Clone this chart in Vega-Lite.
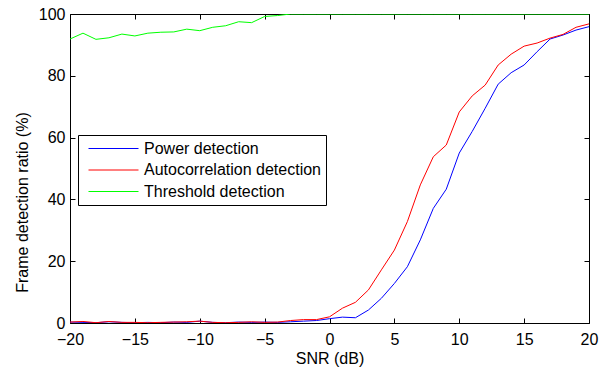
{
  "$schema": "https://vega.github.io/schema/vega-lite/v6.json",
  "width": 519,
  "height": 309,
  "autosize": "none",
  "padding": {"left": 70, "top": 14, "right": 10, "bottom": 46},
  "background": "white",
  "config": {
    "font": "Liberation Sans",
    "view": {"stroke": "black", "strokeWidth": 1},
    "axis": {"grid": false, "domain": false, "labelFlush": false, "ticks": true, "tickColor": "black", "tickWidth": 1, "labelColor": "black", "titleColor": "black", "labelFontSize": 16, "titleFontSize": 16, "titleFontWeight": "normal", "labelFont": "Liberation Sans", "titleFont": "Liberation Sans"}
  },
  "datasets": {
    "d": [
      {"snr": -20, "ratio": 0.3, "method": "Power detection"},
      {"snr": -19, "ratio": 0.2, "method": "Power detection"},
      {"snr": -18, "ratio": 0.1, "method": "Power detection"},
      {"snr": -17, "ratio": 0.4, "method": "Power detection"},
      {"snr": -16, "ratio": 0.2, "method": "Power detection"},
      {"snr": -15, "ratio": 0.1, "method": "Power detection"},
      {"snr": -14, "ratio": 0.2, "method": "Power detection"},
      {"snr": -13, "ratio": 0.1, "method": "Power detection"},
      {"snr": -12, "ratio": 0.3, "method": "Power detection"},
      {"snr": -11, "ratio": 0.2, "method": "Power detection"},
      {"snr": -10, "ratio": 0.6, "method": "Power detection"},
      {"snr": -9, "ratio": 0.2, "method": "Power detection"},
      {"snr": -8, "ratio": 0.1, "method": "Power detection"},
      {"snr": -7, "ratio": 0.3, "method": "Power detection"},
      {"snr": -6, "ratio": 0.2, "method": "Power detection"},
      {"snr": -5, "ratio": 0.3, "method": "Power detection"},
      {"snr": -4, "ratio": 0.2, "method": "Power detection"},
      {"snr": -3, "ratio": 0.4, "method": "Power detection"},
      {"snr": -2, "ratio": 0.6, "method": "Power detection"},
      {"snr": -1, "ratio": 0.8, "method": "Power detection"},
      {"snr": 0, "ratio": 1.4, "method": "Power detection"},
      {"snr": 1, "ratio": 1.9, "method": "Power detection"},
      {"snr": 2, "ratio": 1.7, "method": "Power detection"},
      {"snr": 3, "ratio": 4.2, "method": "Power detection"},
      {"snr": 4, "ratio": 8.0, "method": "Power detection"},
      {"snr": 5, "ratio": 12.8, "method": "Power detection"},
      {"snr": 6, "ratio": 18.2, "method": "Power detection"},
      {"snr": 7, "ratio": 26.9, "method": "Power detection"},
      {"snr": 8, "ratio": 37.1, "method": "Power detection"},
      {"snr": 9, "ratio": 43.3, "method": "Power detection"},
      {"snr": 10, "ratio": 55.0, "method": "Power detection"},
      {"snr": 11, "ratio": 62.0, "method": "Power detection"},
      {"snr": 12, "ratio": 69.5, "method": "Power detection"},
      {"snr": 13, "ratio": 77.3, "method": "Power detection"},
      {"snr": 14, "ratio": 81.0, "method": "Power detection"},
      {"snr": 15, "ratio": 83.5, "method": "Power detection"},
      {"snr": 16, "ratio": 87.8, "method": "Power detection"},
      {"snr": 17, "ratio": 91.9, "method": "Power detection"},
      {"snr": 18, "ratio": 93.2, "method": "Power detection"},
      {"snr": 19, "ratio": 94.8, "method": "Power detection"},
      {"snr": 20, "ratio": 95.9, "method": "Power detection"},
      {"snr": -20, "ratio": 0.3, "method": "Autocorrelation detection"},
      {"snr": -19, "ratio": 0.5, "method": "Autocorrelation detection"},
      {"snr": -18, "ratio": 0.1, "method": "Autocorrelation detection"},
      {"snr": -17, "ratio": 0.5, "method": "Autocorrelation detection"},
      {"snr": -16, "ratio": 0.2, "method": "Autocorrelation detection"},
      {"snr": -15, "ratio": 0.2, "method": "Autocorrelation detection"},
      {"snr": -14, "ratio": 0.1, "method": "Autocorrelation detection"},
      {"snr": -13, "ratio": 0.2, "method": "Autocorrelation detection"},
      {"snr": -12, "ratio": 0.3, "method": "Autocorrelation detection"},
      {"snr": -11, "ratio": 0.4, "method": "Autocorrelation detection"},
      {"snr": -10, "ratio": 0.6, "method": "Autocorrelation detection"},
      {"snr": -9, "ratio": 0.2, "method": "Autocorrelation detection"},
      {"snr": -8, "ratio": 0.1, "method": "Autocorrelation detection"},
      {"snr": -7, "ratio": 0.2, "method": "Autocorrelation detection"},
      {"snr": -6, "ratio": 0.4, "method": "Autocorrelation detection"},
      {"snr": -5, "ratio": 0.2, "method": "Autocorrelation detection"},
      {"snr": -4, "ratio": 0.3, "method": "Autocorrelation detection"},
      {"snr": -3, "ratio": 0.8, "method": "Autocorrelation detection"},
      {"snr": -2, "ratio": 1.1, "method": "Autocorrelation detection"},
      {"snr": -1, "ratio": 1.1, "method": "Autocorrelation detection"},
      {"snr": 0, "ratio": 2.0, "method": "Autocorrelation detection"},
      {"snr": 1, "ratio": 4.8, "method": "Autocorrelation detection"},
      {"snr": 2, "ratio": 6.7, "method": "Autocorrelation detection"},
      {"snr": 3, "ratio": 10.7, "method": "Autocorrelation detection"},
      {"snr": 4, "ratio": 17.2, "method": "Autocorrelation detection"},
      {"snr": 5, "ratio": 23.6, "method": "Autocorrelation detection"},
      {"snr": 6, "ratio": 32.8, "method": "Autocorrelation detection"},
      {"snr": 7, "ratio": 44.7, "method": "Autocorrelation detection"},
      {"snr": 8, "ratio": 53.8, "method": "Autocorrelation detection"},
      {"snr": 9, "ratio": 57.6, "method": "Autocorrelation detection"},
      {"snr": 10, "ratio": 68.3, "method": "Autocorrelation detection"},
      {"snr": 11, "ratio": 73.5, "method": "Autocorrelation detection"},
      {"snr": 12, "ratio": 77.0, "method": "Autocorrelation detection"},
      {"snr": 13, "ratio": 83.5, "method": "Autocorrelation detection"},
      {"snr": 14, "ratio": 87.0, "method": "Autocorrelation detection"},
      {"snr": 15, "ratio": 89.6, "method": "Autocorrelation detection"},
      {"snr": 16, "ratio": 90.6, "method": "Autocorrelation detection"},
      {"snr": 17, "ratio": 92.2, "method": "Autocorrelation detection"},
      {"snr": 18, "ratio": 93.4, "method": "Autocorrelation detection"},
      {"snr": 19, "ratio": 95.7, "method": "Autocorrelation detection"},
      {"snr": 20, "ratio": 96.8, "method": "Autocorrelation detection"},
      {"snr": -20, "ratio": 91.9, "method": "Threshold detection"},
      {"snr": -19, "ratio": 93.8, "method": "Threshold detection"},
      {"snr": -18, "ratio": 91.8, "method": "Threshold detection"},
      {"snr": -17, "ratio": 92.3, "method": "Threshold detection"},
      {"snr": -16, "ratio": 93.5, "method": "Threshold detection"},
      {"snr": -15, "ratio": 92.9, "method": "Threshold detection"},
      {"snr": -14, "ratio": 93.8, "method": "Threshold detection"},
      {"snr": -13, "ratio": 94.1, "method": "Threshold detection"},
      {"snr": -12, "ratio": 94.2, "method": "Threshold detection"},
      {"snr": -11, "ratio": 95.1, "method": "Threshold detection"},
      {"snr": -10, "ratio": 94.6, "method": "Threshold detection"},
      {"snr": -9, "ratio": 95.7, "method": "Threshold detection"},
      {"snr": -8, "ratio": 96.2, "method": "Threshold detection"},
      {"snr": -7, "ratio": 97.5, "method": "Threshold detection"},
      {"snr": -6, "ratio": 97.2, "method": "Threshold detection"},
      {"snr": -5, "ratio": 99.2, "method": "Threshold detection"},
      {"snr": -4, "ratio": 99.5, "method": "Threshold detection"},
      {"snr": -3, "ratio": 100, "method": "Threshold detection"},
      {"snr": -2, "ratio": 100, "method": "Threshold detection"},
      {"snr": -1, "ratio": 100, "method": "Threshold detection"},
      {"snr": 0, "ratio": 100, "method": "Threshold detection"},
      {"snr": 1, "ratio": 100, "method": "Threshold detection"},
      {"snr": 2, "ratio": 100, "method": "Threshold detection"},
      {"snr": 3, "ratio": 100, "method": "Threshold detection"},
      {"snr": 4, "ratio": 100, "method": "Threshold detection"},
      {"snr": 5, "ratio": 100, "method": "Threshold detection"},
      {"snr": 6, "ratio": 100, "method": "Threshold detection"},
      {"snr": 7, "ratio": 100, "method": "Threshold detection"},
      {"snr": 8, "ratio": 100, "method": "Threshold detection"},
      {"snr": 9, "ratio": 100, "method": "Threshold detection"},
      {"snr": 10, "ratio": 100, "method": "Threshold detection"},
      {"snr": 11, "ratio": 100, "method": "Threshold detection"},
      {"snr": 12, "ratio": 100, "method": "Threshold detection"},
      {"snr": 13, "ratio": 100, "method": "Threshold detection"},
      {"snr": 14, "ratio": 100, "method": "Threshold detection"},
      {"snr": 15, "ratio": 100, "method": "Threshold detection"},
      {"snr": 16, "ratio": 100, "method": "Threshold detection"},
      {"snr": 17, "ratio": 100, "method": "Threshold detection"},
      {"snr": 18, "ratio": 100, "method": "Threshold detection"},
      {"snr": 19, "ratio": 100, "method": "Threshold detection"},
      {"snr": 20, "ratio": 100, "method": "Threshold detection"}
    ]
  },
  "data": {"name": "d"},
  "layer": [
    {
      "mark": {"type": "line", "strokeWidth": 1, "clip": true},
      "encoding": {
        "x": {"field": "snr", "type": "quantitative", "scale": {"domain": [-20, 20], "nice": false, "zero": false},
          "axis": {"orient": "bottom", "title": "SNR (dB)", "values": [-20, -15, -10, -5, 0, 5, 10, 15, 20], "tickSize": -5, "labelPadding": 13, "titlePadding": 3}},
        "y": {"field": "ratio", "type": "quantitative", "scale": {"domain": [0, 100], "nice": false},
          "axis": {"orient": "left", "title": "Frame detection ratio (%)", "values": [0, 20, 40, 60, 80, 100], "tickSize": -5, "labelPadding": 10, "titleX": -48, "titleY": 188, "titleAngle": -90, "titleAlign": "center", "titleBaseline": "middle"}},
        "color": {"field": "method", "type": "nominal",
          "scale": {"domain": ["Power detection", "Autocorrelation detection", "Threshold detection"], "range": ["#0000ff", "#ff0000", "#00ff00"]},
          "legend": {"title": null, "orient": "none", "legendX": 8, "legendY": 121, "symbolType": "M-3.125,0H3.125", "symbolSize": 256, "symbolStrokeWidth": 1, "symbolOffset": 22, "labelFontSize": 16, "labelColor": "black", "fillColor": "white", "strokeColor": "black", "padding": 5, "rowPadding": 4.5, "labelOffset": 22, "labelFont": "Liberation Sans", "labelLimit": 400}}
      }
    },
    {
      "mark": {"type": "rule", "opacity": 0},
      "encoding": {
        "x": {"datum": 0, "type": "quantitative", "scale": {"domain": [-20, 20], "nice": false, "zero": false}, "axis": {"orient": "top", "labels": false, "title": "", "values": [-20, -15, -10, -5, 0, 5, 10, 15, 20], "tickSize": -5}},
        "y": {"datum": 0, "type": "quantitative", "scale": {"domain": [0, 100], "nice": false}, "axis": {"orient": "right", "labels": false, "title": "", "values": [0, 20, 40, 60, 80, 100], "tickSize": -5}}
      }
    }
  ],
  "resolve": {"axis": {"x": "independent", "y": "independent"}}
}
